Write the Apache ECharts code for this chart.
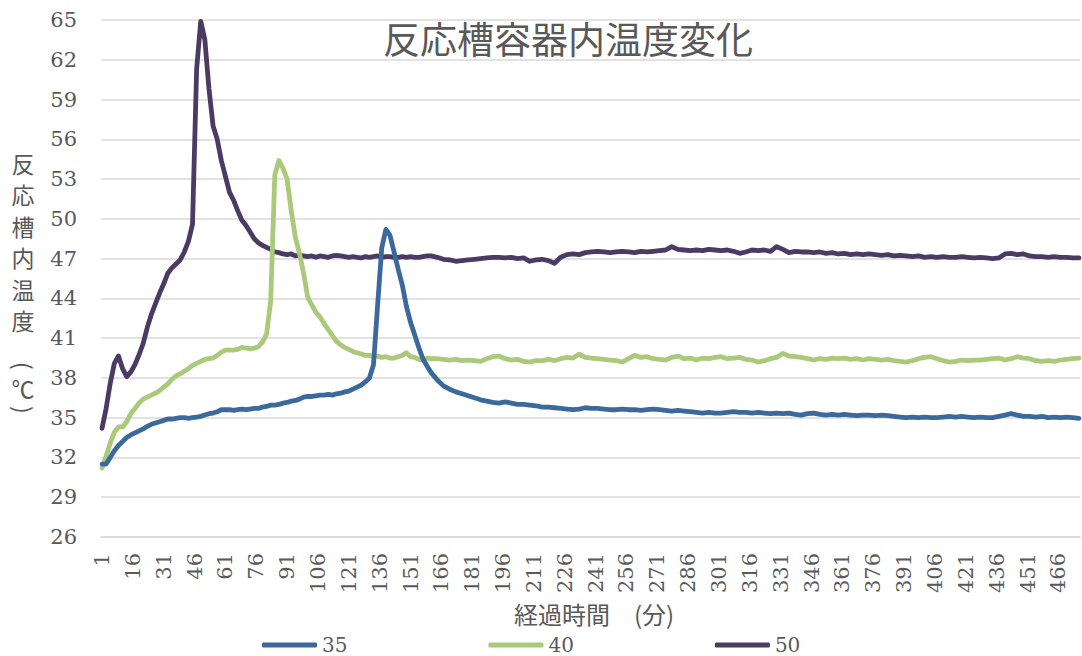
<!DOCTYPE html>
<html>
<head>
<meta charset="utf-8">
<title>反応槽容器内温度変化</title>
<script src="https://cdn.jsdelivr.net/npm/echarts@6.0.0/dist/echarts.min.js"></script>
<style>
  html, body { margin: 0; padding: 0; background: #ffffff; }
  #chart { width: 1082px; height: 656px; }
</style>
</head>
<body>
<div id="chart"></div>
<script>
// Elapsed-minute categories shown on the x axis (1 .. 476)
const categoryCount = 476;
const categories = Array.from({ length: categoryCount }, (_, i) => String(i + 1));
// Every 15th category carries a label
const labelStep = 15;

// Sampling minutes of the logged readings: every 2 min up to 161, then every 3 min
const minutes = [];
for (let m = 1; m <= 161; m += 2) minutes.push(m);
for (let m = 164; m <= 476; m += 3) minutes.push(m);

// Series names (set temperatures)
const seriesNames = ['35', '40', '50'];

// Reactor temperature, set 35
const temp35 = [
  // 1 .. 19
  31.5, 31.5, 32.0, 32.5, 32.9, 33.2, 33.5, 33.7, 33.85, 34.0,
  // 21 .. 39
  34.15, 34.35, 34.5, 34.6, 34.7, 34.8, 34.9, 34.9, 34.95, 35.0,
  // 41 .. 59
  35.0, 34.95, 35.0, 35.05, 35.1, 35.2, 35.3, 35.35, 35.45, 35.6,
  // 61 .. 79
  35.6, 35.6, 35.55, 35.6, 35.65, 35.6, 35.65, 35.7, 35.7, 35.8,
  // 81 .. 99
  35.85, 35.95, 35.95, 36.0, 36.1, 36.15, 36.25, 36.3, 36.4, 36.55,
  // 101 .. 119
  36.6, 36.6, 36.65, 36.7, 36.7, 36.75, 36.7, 36.8, 36.85, 36.95,
  // 121 .. 139
  37.0, 37.15, 37.3, 37.45, 37.7, 38.0, 39.0, 43.5, 47.8, 49.2,
  // 141 .. 159
  48.75, 47.5, 46.2, 45.0, 43.4, 42.2, 41.25, 40.3, 39.45, 38.9,
  // 161
  38.4,
  // 164 .. 191
  37.85, 37.4, 37.15, 36.95, 36.8, 36.65, 36.5, 36.35, 36.25, 36.15,
  // 194 .. 221
  36.1, 36.2, 36.1, 36.0, 36.0, 35.95, 35.9, 35.8, 35.8, 35.75,
  // 224 .. 251
  35.7, 35.65, 35.6, 35.65, 35.75, 35.7, 35.7, 35.65, 35.6, 35.6,
  // 254 .. 281
  35.65, 35.6, 35.6, 35.55, 35.6, 35.65, 35.6, 35.55, 35.5, 35.55,
  // 284 .. 311
  35.5, 35.45, 35.4, 35.35, 35.4, 35.35, 35.35, 35.4, 35.45, 35.4,
  // 314 .. 341
  35.4, 35.35, 35.4, 35.35, 35.3, 35.35, 35.3, 35.35, 35.25, 35.2,
  // 344 .. 371
  35.3, 35.35, 35.25, 35.2, 35.25, 35.2, 35.25, 35.2, 35.15, 35.2,
  // 374 .. 401
  35.2, 35.15, 35.2, 35.15, 35.1, 35.05, 35.0, 35.05, 35.0, 35.05,
  // 404 .. 431
  35.0, 35.0, 35.05, 35.1, 35.05, 35.1, 35.05, 35.0, 35.05, 35.0,
  // 434 .. 461
  35.0, 35.1, 35.2, 35.3, 35.2, 35.1, 35.1, 35.05, 35.1, 35.0,
  // 464 .. 476
  35.05, 35.0, 35.05, 35.0, 34.95
];

// Reactor temperature, set 40
const temp40 = [
  // 1 .. 19
  31.2, 32.1, 33.1, 33.9, 34.3, 34.3, 34.7, 35.3, 35.7, 36.1,
  // 21 .. 39
  36.4, 36.55, 36.7, 36.85, 37.05, 37.3, 37.55, 37.9, 38.15, 38.3,
  // 41 .. 59
  38.5, 38.7, 38.95, 39.1, 39.25, 39.4, 39.45, 39.5, 39.7, 39.95,
  // 61 .. 79
  40.1, 40.1, 40.1, 40.15, 40.3, 40.25, 40.2, 40.25, 40.35, 40.7,
  // 81 .. 99
  41.3, 43.8, 53.3, 54.4, 53.8, 53.0, 50.6, 48.6, 47.4, 45.9,
  // 101 .. 119
  44.1, 43.5, 42.95, 42.6, 42.1, 41.65, 41.2, 40.75, 40.5, 40.3,
  // 121 .. 139
  40.15, 40.0, 39.9, 39.8, 39.7, 39.7, 39.6, 39.65, 39.55, 39.6,
  // 141 .. 159
  39.5, 39.5, 39.6, 39.7, 39.9, 39.6, 39.55, 39.4, 39.35, 39.5,
  // 161
  39.45,
  // 164 .. 191
  39.45, 39.4, 39.35, 39.4, 39.3, 39.35, 39.3, 39.25, 39.45, 39.6,
  // 194 .. 221
  39.65, 39.45, 39.35, 39.4, 39.25, 39.2, 39.3, 39.3, 39.4, 39.3,
  // 224 .. 251
  39.45, 39.55, 39.5, 39.8, 39.55, 39.5, 39.45, 39.4, 39.35, 39.3,
  // 254 .. 281
  39.2, 39.45, 39.7, 39.55, 39.6, 39.45, 39.4, 39.35, 39.55, 39.65,
  // 284 .. 311
  39.45, 39.5, 39.35, 39.5, 39.45, 39.55, 39.6, 39.45, 39.5, 39.55,
  // 314 .. 341
  39.4, 39.35, 39.2, 39.3, 39.45, 39.55, 39.85, 39.65, 39.6, 39.55,
  // 344 .. 371
  39.45, 39.35, 39.45, 39.4, 39.5, 39.45, 39.5, 39.4, 39.45, 39.35,
  // 374 .. 401
  39.45, 39.4, 39.35, 39.4, 39.3, 39.25, 39.2, 39.3, 39.45, 39.55,
  // 404 .. 431
  39.6, 39.45, 39.3, 39.2, 39.25, 39.35, 39.3, 39.35, 39.35, 39.4,
  // 434 .. 461
  39.45, 39.5, 39.35, 39.45, 39.6, 39.5, 39.45, 39.3, 39.25, 39.3,
  // 464 .. 476
  39.25, 39.35, 39.4, 39.45, 39.5
];

// Reactor temperature, set 50
const temp50 = [
  // 1 .. 19
  34.2, 35.7, 37.6, 39.1, 39.65, 38.7, 38.1, 38.45, 39.0, 39.75,
  // 21 .. 39
  40.6, 41.8, 42.8, 43.6, 44.4, 45.1, 45.9, 46.3, 46.6, 46.9,
  // 41 .. 59
  47.5, 48.3, 49.6, 61.3, 64.9, 63.5, 59.8, 57.0, 56.0, 54.4,
  // 61 .. 79
  53.2, 52.0, 51.4, 50.6, 49.9, 49.5, 49.0, 48.5, 48.2, 48.0,
  // 81 .. 99
  47.85, 47.7, 47.5, 47.45, 47.35, 47.3, 47.35, 47.2, 47.25, 47.2,
  // 101 .. 119
  47.15, 47.2, 47.1, 47.2, 47.15, 47.1, 47.2, 47.25, 47.2, 47.15,
  // 121 .. 139
  47.1, 47.15, 47.1, 47.05, 47.15, 47.1, 47.15, 47.2, 47.1, 47.15,
  // 141 .. 159
  47.15, 47.1, 47.1, 47.15, 47.1, 47.15, 47.1, 47.1, 47.15, 47.2,
  // 161
  47.2,
  // 164 .. 191
  47.1, 46.95, 46.9, 46.8, 46.85, 46.9, 46.95, 47.0, 47.05, 47.1,
  // 194 .. 221
  47.1, 47.05, 47.1, 47.0, 47.05, 46.8, 46.9, 46.95, 46.85, 46.65,
  // 224 .. 251
  47.1, 47.3, 47.35, 47.3, 47.45, 47.5, 47.55, 47.5, 47.45, 47.5,
  // 254 .. 281
  47.55, 47.5, 47.45, 47.55, 47.5, 47.55, 47.6, 47.65, 47.9, 47.7,
  // 284 .. 311
  47.65, 47.6, 47.65, 47.6, 47.7, 47.65, 47.6, 47.65, 47.55, 47.4,
  // 314 .. 341
  47.5, 47.65, 47.6, 47.65, 47.55, 47.9, 47.7, 47.45, 47.55, 47.5,
  // 344 .. 371
  47.5, 47.45, 47.5, 47.4, 47.45, 47.35, 47.4, 47.3, 47.35, 47.3,
  // 374 .. 401
  47.35, 47.3, 47.25, 47.3, 47.2, 47.25, 47.2, 47.15, 47.2, 47.1,
  // 404 .. 431
  47.15, 47.1, 47.15, 47.1, 47.1, 47.15, 47.1, 47.05, 47.1, 47.05,
  // 434 .. 461
  47.0, 47.05, 47.35, 47.4, 47.3, 47.35, 47.2, 47.15, 47.15, 47.1,
  // 464 .. 476
  47.15, 47.1, 47.1, 47.05, 47.05
];

// Axis titles
const xAxisTitle = '経過時間　(分)';
const yAxisTitleChars = ['反', '応', '槽', '内', '温', '度'];
const yAxisUnit = '℃';

const colors = { '35': '#3c699c', '40': '#abc97a', '50': '#4b3a63' };
const textColor = '#595959';
const gridColor = '#d9d9d9';
const latinFont = '"DejaVu Serif", "Liberation Serif", serif';
const cjkFont = '"Noto Sans CJK JP", "Noto Sans", sans-serif';

// Pair each reading with its category index on the x axis
function toPoints(values) {
  return minutes.map((m, k) => [m - 1, values[k]]);
}

function lineSeries(name, values) {
  return {
    name: name,
    type: 'line',
    data: toPoints(values),
    showSymbol: false,
    symbol: 'none',
    smooth: false,
    animation: false,
    lineStyle: { width: 4.8, color: colors[name], cap: 'round', join: 'round' },
    itemStyle: { color: colors[name] }
  };
}

const chart = echarts.init(document.getElementById('chart'), null, { renderer: 'svg' });

chart.setOption({
  backgroundColor: '#ffffff',
  animation: false,
  title: {
    text: '反応槽容器内温度変化',
    left: 383,
    top: 19,
    padding: 0,
    textStyle: { fontFamily: cjkFont, fontSize: 37, fontWeight: 'normal', color: textColor }
  },
  legend: {
    data: seriesNames,
    left: 262,
    top: 635,
    padding: 0,
    icon: 'roundRect',
    itemWidth: 55,
    itemHeight: 5,
    itemGap: 141,
    textStyle: { fontFamily: latinFont, fontSize: 20, color: textColor }
  },
  grid: { left: 101, right: 2, top: 20, bottom: 119, containLabel: false },
  xAxis: {
    type: 'category',
    data: categories,
    boundaryGap: true,
    axisLine: { show: true, lineStyle: { color: gridColor, width: 1.5 } },
    axisTick: { show: false },
    axisLabel: {
      show: true,
      interval: labelStep - 1,
      rotate: 90,
      margin: 16,
      fontFamily: latinFont,
      fontSize: 21,
      color: textColor
    },
    splitLine: { show: false }
  },
  yAxis: {
    type: 'value',
    min: 26,
    max: 65,
    interval: 3,
    axisLine: { show: false },
    axisTick: { show: false },
    axisLabel: { margin: 24, fontFamily: latinFont, fontSize: 21, color: textColor },
    splitLine: { show: true, lineStyle: { color: gridColor, width: 1.5 } }
  },
  series: [
    lineSeries('50', temp50),
    lineSeries('40', temp40),
    lineSeries('35', temp35)
  ]
});

// Axis titles as text elements
const graphics = [];

// Vertical y-axis title, one character per row
const titleX = 23;
const titleTop = 163;
const rowStep = 31.4;
yAxisTitleChars.forEach((ch, i) => {
  graphics.push({
    type: 'text',
    x: titleX,
    y: titleTop + i * rowStep,
    style: { text: ch, font: '23px ' + cjkFont, fill: textColor, align: 'center', verticalAlign: 'middle' }
  });
});
// Bracketed unit, brackets turned for vertical writing
graphics.push({
  type: 'text', x: titleX + 1, y: 366, rotation: -Math.PI / 2,
  style: { text: '(', font: '23px ' + cjkFont, fill: textColor, align: 'center', verticalAlign: 'middle' }
});
graphics.push({
  type: 'text', x: titleX, y: 388,
  style: { text: yAxisUnit, font: '23px ' + cjkFont, fill: textColor, align: 'center', verticalAlign: 'middle' }
});
graphics.push({
  type: 'text', x: titleX + 1, y: 410, rotation: -Math.PI / 2,
  style: { text: ')', font: '23px ' + cjkFont, fill: textColor, align: 'center', verticalAlign: 'middle' }
});

// Horizontal axis title
graphics.push({
  type: 'text',
  x: 594,
  y: 613,
  style: { text: xAxisTitle, font: '24px ' + cjkFont, fill: textColor, align: 'center', verticalAlign: 'middle' }
});

chart.setOption({ graphic: graphics });
</script>
</body>
</html>
